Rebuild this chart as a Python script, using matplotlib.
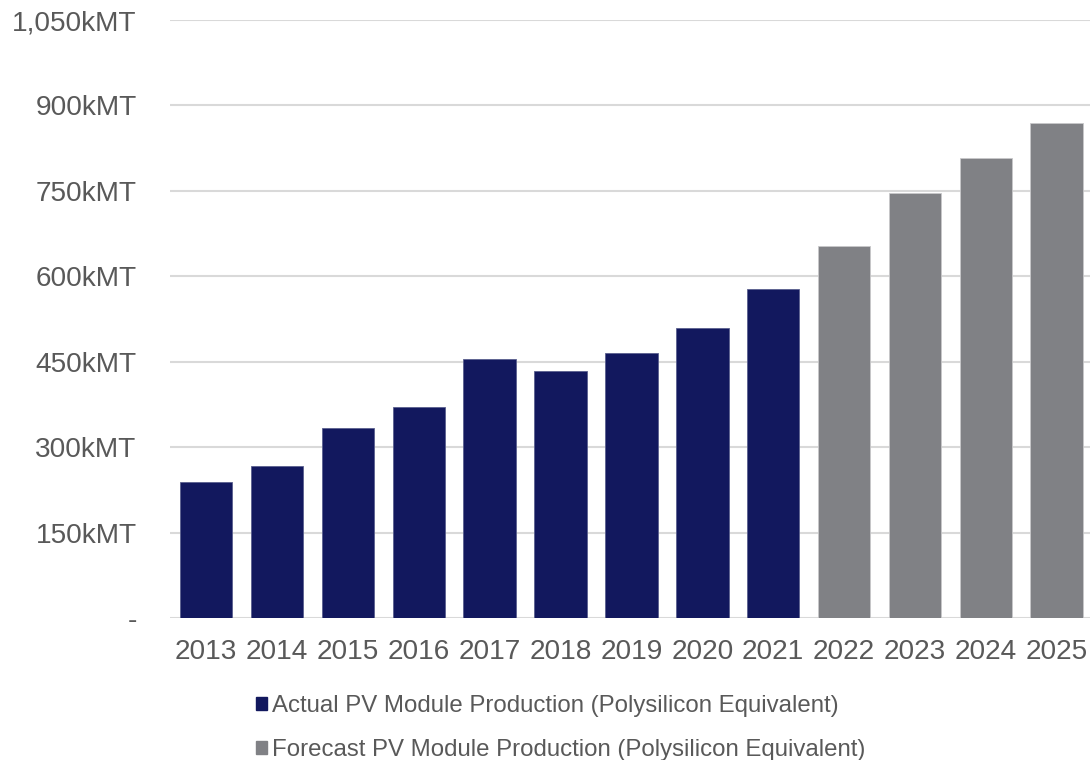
import matplotlib.pyplot as plt
from matplotlib.patches import Patch
from matplotlib.ticker import FuncFormatter
import numpy as np

plt.rcParams["font.family"] = ["Liberation Sans", "DejaVu Sans"]

years = ["2013", "2014", "2015", "2016", "2017", "2018", "2019",
         "2020", "2021", "2022", "2023", "2024", "2025"]
actual = [239, 267, 334, 371, 454, 433, 466, 510, 577]
forecast = [654, 747, 807, 870]

navy = "#12185e"
grey = "#808185"
text_col = "#595959"

fig = plt.figure(figsize=(10.9, 7.6), dpi=100)
ax = fig.add_axes([170 / 1090, 142 / 760, 920 / 1090, 598 / 760])

x = np.arange(len(years))
n_act = len(actual)
ax.bar(x[:n_act], actual, width=0.74, color=navy,
       edgecolor="#5a5f8e", linewidth=0.6, zorder=3)
ax.bar(x[n_act:], forecast, width=0.74, color=grey,
       edgecolor="#c8c8ca", linewidth=0.6, zorder=3)

ax.set_xlim(-0.51, 12.47)
ax.set_ylim(0, 1050)
ax.set_yticks(np.arange(0, 1051, 150))
ax.yaxis.set_major_formatter(
    FuncFormatter(lambda v, p: "-" if v == 0 else f"{int(v):,}kMT"))
ax.set_xticks(x)
ax.set_xticklabels(years)
ax.tick_params(axis="both", length=0, labelsize=20.2, colors=text_col)
ax.tick_params(axis="y", pad=24)
ax.tick_params(axis="x", pad=15)
ax.grid(axis="y", color="#d9d9d9", lw=1.5, zorder=0)
ax.set_axisbelow(True)
for s in ax.spines.values():
    s.set_visible(False)

handles = [Patch(color=navy, label="Actual PV Module Production (Polysilicon Equivalent)"),
           Patch(color=grey, label="Forecast PV Module Production (Polysilicon Equivalent)")]
leg = fig.legend(handles=handles, loc="upper left",
                 bbox_to_anchor=(256 / 1090, 1 - 695 / 760),
                 frameon=False, fontsize=17.3, handlelength=0.45,
                 handleheight=0.45, handletextpad=0.2, labelspacing=0.9,
                 borderpad=0, borderaxespad=0)
for t in leg.get_texts():
    t.set_color(text_col)

fig.savefig("out.png", dpi=100)
